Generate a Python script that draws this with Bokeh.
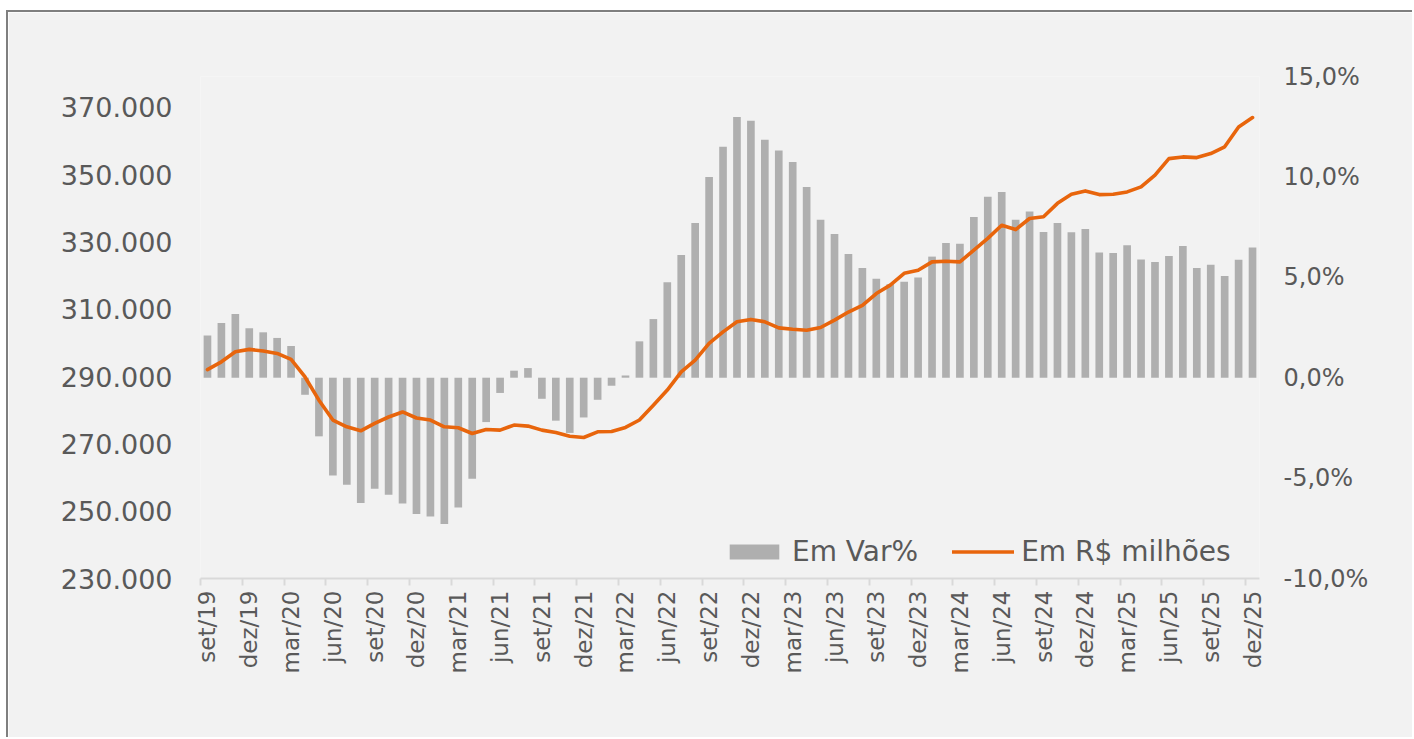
import math
from bokeh.plotting import figure
from bokeh.models import Range1d, LinearAxis, FixedTicker, Legend, LegendItem
from bokeh.embed import file_html
from bokeh.resources import INLINE

# ---- data ----
tick_labels = ["set/19", "dez/19", "mar/20", "jun/20", "set/20", "dez/20", "mar/21", "jun/21",
               "set/21", "dez/21", "mar/22", "jun/22", "set/22", "dez/22", "mar/23", "jun/23",
               "set/23", "dez/23", "mar/24", "jun/24", "set/24", "dez/24", "mar/25", "jun/25",
               "set/25", "dez/25"]

var_pct = [2.10, 2.72, 3.17, 2.46, 2.26, 1.98, 1.58, -0.85, -2.92, -4.87,
           -5.33, -6.24, -5.53, -5.83, -6.27, -6.79, -6.91, -7.29, -6.46, -5.03,
           -2.21, -0.76, 0.35, 0.48, -1.05, -2.14, -2.75, -1.98, -1.10, -0.40,
           0.11, 1.81, 2.92, 4.75, 6.11, 7.70, 9.99, 11.50, 12.98, 12.80,
           11.85, 11.32, 10.74, 9.50, 7.87, 7.16, 6.16, 5.46, 4.93, 4.65,
           4.78, 4.99, 6.03, 6.71, 6.67, 8.00, 9.01, 9.25, 7.87, 8.28,
           7.26, 7.70, 7.24, 7.41, 6.23, 6.21, 6.59, 5.89, 5.76, 6.06,
           6.56, 5.46, 5.63, 5.06, 5.88, 6.49]

r_milhoes = [292100, 294400, 297400, 298100, 297600, 296900, 295100, 289900, 283000, 277100,
             275100, 273900, 276100, 278000, 279500, 277700, 277100, 275100, 274800, 273100,
             274300, 274100, 275600, 275300, 274100, 273400, 272300, 271900, 273600, 273700,
             274900, 277100, 281500, 286000, 291400, 294900, 299900, 303300, 306300, 307000,
             306300, 304500, 304100, 303800, 304600, 306800, 309200, 311200, 314700, 317200,
             320700, 321600, 324100, 324300, 324100, 327600, 331100, 335000, 333700, 337000,
             337500, 341500, 344200, 345200, 344100, 344200, 344900, 346400, 349900, 354800,
             355300, 355100, 356300, 358300, 364200, 367000]

left_ticks = [230000, 250000, 270000, 290000, 310000, 330000, 350000, 370000]
right_ticks = [-10, -5, 0, 5, 10, 15]

n = len(var_pct)
xs = list(range(n))

FONT = "DejaVu Sans"
TXT = "#595959"
BG = "#f2f2f2"

p = figure(width=1406, height=727, output_backend="svg", toolbar_location=None,
           x_range=Range1d(-0.5, n - 0.5), y_range=Range1d(230000, 379200),
           min_border_left=192, min_border_right=155, min_border_top=64, min_border_bottom=161)
p.extra_y_ranges = {"pct": Range1d(-10, 15)}
p.background_fill_color = BG
p.border_fill_color = BG
p.outline_line_color = None
p.grid.visible = False
p.styles = {"border-left": "2px solid #7f7f7f", "border-top": "2px solid #7f7f7f",
            "margin-left": "6px", "margin-top": "10px"}

bars = p.vbar(x=xs, top=var_pct, bottom=0, width=0.55, y_range_name="pct",
              fill_color="#afafaf", line_color=None)
line = p.line(x=xs, y=r_milhoes, line_color="#e8650c", line_width=3.6,
              line_join="round", line_cap="round")

# bottom axis
xa = p.xaxis[0]
label_pos = list(range(0, n, 3))
xa.ticker = FixedTicker(ticks=label_pos, minor_ticks=[v - 0.5 for v in label_pos])
xa.major_label_overrides = {pos: lab for pos, lab in zip(label_pos, tick_labels)}
xa.major_label_orientation = math.pi / 2
xa.major_tick_line_color = None
xa.major_tick_out = 0
xa.major_tick_in = 0
xa.minor_tick_line_color = "#d9d9d9"
xa.minor_tick_line_width = 2
xa.minor_tick_out = 7
xa.minor_tick_in = 0
xa.axis_line_color = "#d9d9d9"
xa.axis_line_width = 2
xa.major_label_standoff = 5
xa.major_label_text_font = FONT
xa.major_label_text_font_size = "23px"
xa.major_label_text_color = TXT

# left axis
ya = p.yaxis[0]
ya.ticker = FixedTicker(ticks=left_ticks)
ya.major_label_overrides = {t: f"{t // 1000}.000" for t in left_ticks}
ya.axis_line_color = None
ya.major_tick_line_color = None
ya.major_tick_out = 0
ya.major_tick_in = 0
ya.minor_tick_line_color = None
ya.major_label_standoff = 28
ya.major_label_text_font = FONT
ya.major_label_text_font_size = "27px"
ya.major_label_text_color = TXT

# right axis
ra = LinearAxis(y_range_name="pct", ticker=FixedTicker(ticks=right_ticks))
ra.major_label_overrides = {t: f"{t},0%" for t in right_ticks}
ra.axis_line_color = None
ra.major_tick_line_color = None
ra.major_tick_out = 0
ra.major_tick_in = 0
ra.minor_tick_line_color = None
ra.major_label_standoff = 24
ra.major_label_text_font = FONT
ra.major_label_text_font_size = "24px"
ra.major_label_text_color = TXT
p.add_layout(ra, "right")

legend = Legend(items=[LegendItem(label="Em Var%", renderers=[bars]),
                       LegendItem(label="Em R$ milhões", renderers=[line])],
                orientation="horizontal", location=(523, 10),
                background_fill_alpha=0, border_line_color=None,
                glyph_width=62, glyph_height=19, label_standoff=7, spacing=34,
                padding=0, margin=0,
                label_text_font=FONT, label_text_font_size="28px", label_text_color=TXT)
p.add_layout(legend, "center")

open("out.html", "w").write(file_html(p, INLINE))
